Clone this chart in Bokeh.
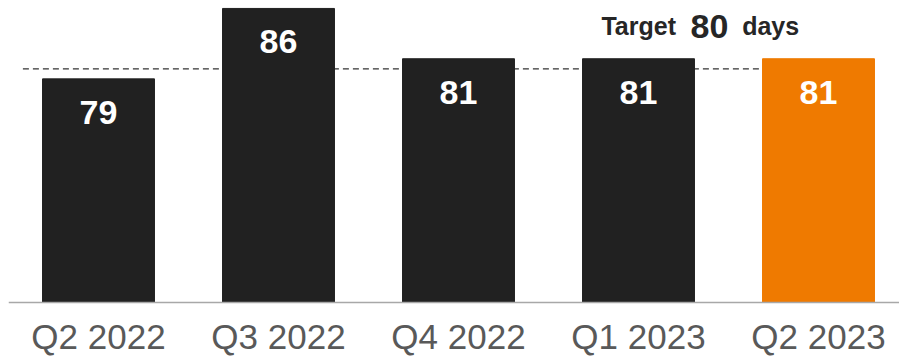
from bokeh.plotting import figure
from bokeh.models import ColumnDataSource, Range1d, LabelSet, Label, Span
from bokeh.core.properties import value
from bokeh.embed import file_html
from bokeh.resources import INLINE

quarters = ["Q2 2022", "Q3 2022", "Q4 2022", "Q1 2023", "Q2 2023"]
days = [79, 86, 81, 81, 81]
colors = ["#212121", "#212121", "#212121", "#212121", "#EF7A00"]
target = 80

BASE = 56.77          # value where the bars start (chart baseline)
Y_TOP, Y_BOT = 86.79, 51.30
xs = list(range(len(quarters)))
src = ColumnDataSource(dict(x=xs, top=days, color=colors, label=[str(d) for d in days],
                            q=quarters, base=[BASE] * len(xs)))

FONT = "Liberation Sans"
p = figure(width=899, height=357, output_backend="svg", toolbar_location=None,
           x_range=Range1d(-0.5, 4.45), y_range=Range1d(Y_BOT, Y_TOP),
           x_axis_location=None, y_axis_location=None,
           min_border_left=8, min_border_right=0, min_border_top=0, min_border_bottom=0)
p.outline_line_color = None
p.grid.visible = False

# target dashed line (behind bars)
p.line(x=[-0.42, len(quarters) - 1], y=[target, target], line_color="#333333",
       line_width=1.2, line_dash="6 4")

p.vbar(x="x", top="top", bottom=BASE, width=0.622, color="color", source=src)

# baseline (category axis line)
p.add_layout(Span(location=BASE, dimension="width", line_color="#a8a8a8", line_width=1.6))

labels = LabelSet(x="x", y="top", text="label", source=src, text_align="center",
                  text_baseline="alphabetic", y_offset=-45, text_color="white",
                  text_font=value(FONT), text_font_style="bold", text_font_size="34px")
p.add_layout(labels)

cats = LabelSet(x="x", y="base", text="q", source=src, text_align="center",
                text_baseline="alphabetic", y_offset=-47, text_color="#595959",
                text_font=value(FONT), text_font_size="35px")
p.add_layout(cats)

ty = 84.25
for tx, txt, size in [(2.794, "Target", "25px"), (3.289, str(target), "34px"), (3.576, "days", "25px")]:
    p.add_layout(Label(x=tx, y=ty, text=txt, text_font=FONT, text_font_style="bold",
                       text_font_size=size, text_color="#262626", text_baseline="alphabetic",
                       text_align="left"))

open("out.html", "w").write(file_html(p, INLINE))
